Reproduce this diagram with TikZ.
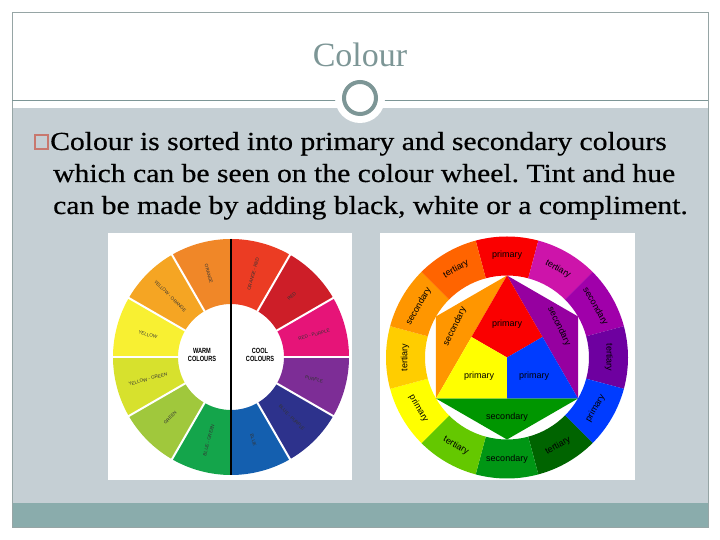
\documentclass[tikz,border=0pt]{standalone}
\usepackage{fontspec}
\setmainfont{Liberation Serif}
\setsansfont{Liberation Sans}
\newfontfamily\bodyfont[FakeStretch=1.14,FakeBold=0.5]{Liberation Serif}
\usetikzlibrary{calc}
\frenchspacing

\definecolor{slidegray}{RGB}{197,207,212}
\definecolor{tealbar}{RGB}{138,172,172}
\definecolor{titlecol}{RGB}{125,150,150}
\definecolor{framecol}{RGB}{150,165,165}
\definecolor{bulletcol}{RGB}{200,120,110}
% left wheel
\definecolor{lwOR}{RGB}{235,60,35}
\definecolor{lwR}{RGB}{205,30,40}
\definecolor{lwRP}{RGB}{230,20,120}
\definecolor{lwP}{RGB}{125,45,150}
\definecolor{lwBP}{RGB}{45,50,140}
\definecolor{lwB}{RGB}{20,95,175}
\definecolor{lwBG}{RGB}{20,165,75}
\definecolor{lwG}{RGB}{160,200,60}
\definecolor{lwYG}{RGB}{215,225,45}
\definecolor{lwY}{RGB}{248,240,50}
\definecolor{lwYO}{RGB}{245,165,35}
\definecolor{lwO}{RGB}{240,135,40}
% right wheel
\definecolor{rwRed}{RGB}{250,0,0}
\definecolor{rwMag}{RGB}{205,20,170}
\definecolor{rwPur}{RGB}{160,0,170}
\definecolor{rwVio}{RGB}{110,0,160}
\definecolor{rwBlue}{RGB}{0,60,255}
\definecolor{rwDG}{RGB}{0,100,0}
\definecolor{rwGreen}{RGB}{0,150,20}
\definecolor{rwYG}{RGB}{100,200,0}
\definecolor{rwYel}{RGB}{255,255,0}
\definecolor{rwYO}{RGB}{255,205,0}
\definecolor{rwOr}{RGB}{255,150,0}
\definecolor{rwRO}{RGB}{255,100,0}
\definecolor{inPur}{RGB}{150,0,160}
\definecolor{inGreen}{RGB}{0,150,0}

\tikzset{
  bodyline/.style={anchor=base west, inner sep=0pt, font=\bodyfont\fontsize{26}{32}\selectfont},
  lwlabel/.style={inner sep=0pt, text=black!80, font=\sffamily\fontsize{4.6}{5}\selectfont},
  centerlabel/.style={inner sep=0pt, align=center, font=\sffamily\bfseries\fontsize{7.5}{8.6}\selectfont},
  rwlabel/.style={inner sep=0pt, text=black, font=\sffamily\fontsize{9}{10}\selectfont},
}

\begin{document}
\begin{tikzpicture}[x=1pt,y=1pt]
\useasboundingbox (0,0) rectangle (720,540);
\fill[white] (0,0) rectangle (720,540);
% slide background
\fill[slidegray] (12,37) rectangle (708,432);
\fill[tealbar] (12,13) rectangle (708,37);
\draw[framecol, line width=0.8] (12,13) rectangle (708,528);
\draw[titlecol, line width=0.8] (12,440) -- (708,440);
\fill[white] (360,442) circle (25);
\draw[titlecol, line width=4] (360,442) circle (16);
\node[titlecol, inner sep=0pt, anchor=base, font=\fontsize{34}{40}\selectfont] (title) at (360,473) {Colour};

% bullet and text
\draw[bulletcol, line width=1.2] (35,391) rectangle (48,405);
\node[bodyline] (line1) at (50,390) {Colour is sorted into primary and secondary colours};
\node[bodyline] (line2) at (53,358) {which can be seen on the colour wheel. Tint and hue};
\node[bodyline] (line3) at (53,326) {can be made by adding black, white or a compliment.};

% ---------- left wheel ----------
\fill[white] (108,60) rectangle (352,307);
\coordinate (L) at (231,183);
\foreach \a/\c/\r/\t [count=\i] in {
  75/lwOR/75/ORANGE - RED, 45/lwR/45/RED, 15/lwRP/15/RED - PURPLE,
  -15/lwP/-15/PURPLE, -45/lwBP/-45/BLUE - PURPLE, -75/lwB/-75/BLUE,
  105/lwO/-75/ORANGE, 135/lwYO/-45/YELLOW - ORANGE, 165/lwY/-15/YELLOW,
  195/lwYG/15/YELLOW - GREEN, 225/lwG/45/GREEN, 255/lwBG/75/BLUE - GREEN}{
  \pgfmathsetmacro\sa{\a-15}
  \pgfmathsetmacro\ea{\a+15}
  \fill[\c] ($(L)+(\sa:118)$) arc[start angle=\sa, end angle=\ea, radius=118]
     -- ($(L)+(\ea:53)$) arc[start angle=\ea, end angle=\sa, radius=53] -- cycle;
  \node[lwlabel, rotate=\r] (lwl\i) at ($(L)+(\a:86)$) {\t};
}
\foreach \a in {0,30,60,120,150,180,210,240,300,330}{
  \draw[white, line width=2] ($(L)+(\a:52)$) -- ($(L)+(\a:119)$);
}
\draw[black, line width=1.8] (231,65) -- (231,301);
\node[centerlabel] (warm) at (202,185) {\scalebox{0.75}[1]{WARM}\\\scalebox{0.75}[1]{COLOURS}};
\node[centerlabel] (cool) at (260,185) {\scalebox{0.75}[1]{COOL}\\\scalebox{0.75}[1]{COLOURS}};

% ---------- right wheel ----------
\fill[white] (380,60) rectangle (635,307);
\coordinate (R) at (507,182.5);
\foreach \a/\c/\r/\t [count=\i] in {
  90/rwRed/0/primary, 60/rwMag/-30/tertiary, 30/rwPur/-60/secondary,
  0/rwVio/-90/tertiary, -30/rwBlue/60/primary, -60/rwDG/30/tertiary,
  -90/rwGreen/0/secondary, -120/rwYG/-30/tertiary, -150/rwYel/-60/primary,
  180/rwYO/90/tertiary, 150/rwOr/60/secondary, 120/rwRO/30/tertiary}{
  \pgfmathsetmacro\sa{\a-15}
  \pgfmathsetmacro\ea{\a+15}
  \fill[\c] ($(R)+(\sa:121)$) arc[start angle=\sa, end angle=\ea, radius=121]
     -- ($(R)+(\ea:82)$) arc[start angle=\ea, end angle=\sa, radius=82] -- cycle;
  \node[rwlabel, rotate=\r] (rwl\i) at ($(R)+(\a:102)$) {\t};
}
\coordinate (T) at ($(R)+(90:82)$);
\coordinate (UR) at ($(R)+(30:82)$);
\coordinate (BR) at ($(R)+(-30:82)$);
\coordinate (B) at ($(R)+(-90:82)$);
\coordinate (BL) at ($(R)+(-150:82)$);
\coordinate (UL) at ($(R)+(150:82)$);
\coordinate (ML) at ($(T)!0.5!(BL)$);
\coordinate (MR) at ($(T)!0.5!(BR)$);
\coordinate (MB) at ($(BL)!0.5!(BR)$);
\fill[rwOr] (T) -- (UL) -- (BL) -- cycle;
\fill[inPur] (T) -- (UR) -- (BR) -- cycle;
\fill[inGreen] (BL) -- (B) -- (BR) -- cycle;
\fill[rwRed] (T) -- (ML) -- (R) -- (MR) -- cycle;
\fill[rwYel] (ML) -- (BL) -- (MB) -- (R) -- cycle;
\fill[rwBlue] (MR) -- (R) -- (MB) -- (BR) -- cycle;
\node[rwlabel] (inred) at ($(R)+(0,33)$) {primary};
\node[rwlabel] (inyel) at ($(R)+(-28,-18.5)$) {primary};
\node[rwlabel] (inblue) at ($(R)+(27,-18.5)$) {primary};
\node[rwlabel] (ingreen) at ($(R)+(0,-60)$) {secondary};
\node[rwlabel, rotate=64] (inorange) at ($(R)+(-52,31)$) {secondary};
\node[rwlabel, rotate=-64] (inpurple) at ($(R)+(52,31)$) {secondary};
\end{tikzpicture}
\end{document}
